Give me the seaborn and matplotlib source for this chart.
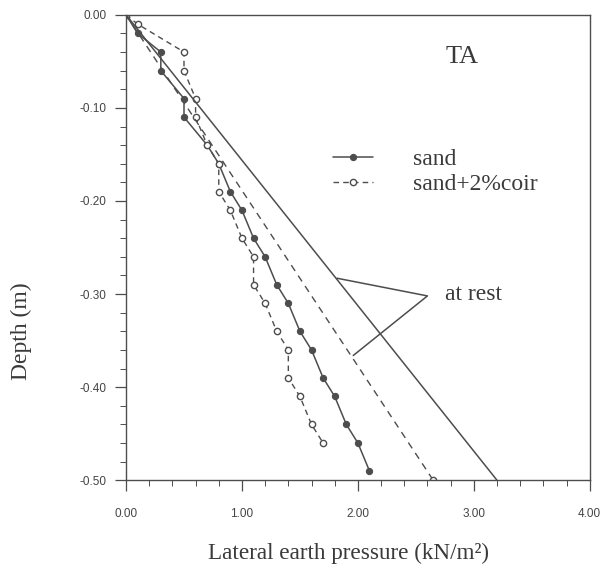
import matplotlib
matplotlib.use("Agg")
import matplotlib.pyplot as plt
import seaborn as sns
import pandas as pd
from matplotlib.ticker import MultipleLocator, FormatStrFormatter

# datos
arena_x = [0.0, 0.1, 0.3, 0.3, 0.5, 0.5, 0.7, 0.8, 0.9, 1.0, 1.1, 1.2, 1.3,
           1.4, 1.5, 1.6, 1.7, 1.8, 1.9, 2.0, 2.1]
arena_y = [0.0, -0.02, -0.04, -0.06, -0.09, -0.11, -0.14, -0.16, -0.19, -0.21,
           -0.24, -0.26, -0.29, -0.31, -0.34, -0.36, -0.39, -0.41, -0.44,
           -0.46, -0.49]
coir_x = [0.0, 0.1, 0.5, 0.5, 0.6, 0.6, 0.7, 0.8, 0.8, 0.9, 1.0, 1.1, 1.1,
          1.2, 1.3, 1.4, 1.4, 1.5, 1.6, 1.7]
coir_y = [0.0, -0.01, -0.04, -0.06, -0.09, -0.11, -0.14, -0.16, -0.19, -0.21,
          -0.24, -0.26, -0.29, -0.31, -0.34, -0.36, -0.39, -0.41, -0.44, -0.46]
reposo_arena_x = [0.0, 3.2]
reposo_arena_y = [0.0, -0.5]
reposo_coir_x = [0.0, 2.65]
reposo_coir_y = [0.0, -0.5]

gris = '#4d4d4d'
texto = '#3a3a3a'

sns.set_theme(style='ticks')
plt.rcParams['font.family'] = ['Liberation Serif', 'DejaVu Serif']

fig, ax = plt.subplots(figsize=(6.03, 5.69), dpi=100)
fig.subplots_adjust(left=0.209, right=0.978, top=0.974, bottom=0.156)

df_a = pd.DataFrame({'x': arena_x, 'y': arena_y})
df_c = pd.DataFrame({'x': coir_x, 'y': coir_y})

sns.lineplot(data=df_a, x='x', y='y', sort=False, estimator=None, ax=ax,
             color=gris, linewidth=1.1, marker='o', markersize=4.5,
             markerfacecolor=gris, markeredgecolor=gris, label='sand')
sns.lineplot(data=df_c, x='x', y='y', sort=False, estimator=None, ax=ax,
             color=gris, linewidth=1.0, linestyle=(0, (4, 3)), marker='o',
             markersize=4.5, markerfacecolor='white', markeredgecolor=gris,
             markeredgewidth=1.0, label='sand+2%coir')

ax.plot(reposo_arena_x, reposo_arena_y, color=gris, linewidth=1.1)
ax.plot(reposo_coir_x, reposo_coir_y, color=gris, linewidth=1.0,
        linestyle=(0, (5, 4)))
ax.plot(reposo_coir_x[-1:], reposo_coir_y[-1:], marker='o', markersize=4.5,
        markerfacecolor='white', markeredgecolor=gris, linestyle='none')

# anotación "at rest"
ax.plot([1.82, 2.60, 1.96], [-0.283, -0.302, -0.366], color=gris, linewidth=1.1)
ax.text(2.75, -0.301, 'at rest', fontsize=17, color=texto, va='center')
ax.text(2.90, -0.045, 'TA', fontsize=19, color=texto, va='center', ha='center')

ax.set_xlim(0, 4)
ax.set_ylim(-0.5, 0)
ax.xaxis.set_major_locator(MultipleLocator(1.0))
ax.xaxis.set_minor_locator(MultipleLocator(0.2))
ax.yaxis.set_major_locator(MultipleLocator(0.1))
ax.yaxis.set_minor_locator(MultipleLocator(0.02))
ax.xaxis.set_major_formatter(FormatStrFormatter('%.2f'))
ax.yaxis.set_major_formatter(FormatStrFormatter('%.2f'))

for lab in ax.get_xticklabels() + ax.get_yticklabels():
    lab.set_family(['Liberation Sans', 'DejaVu Sans'])
ax.tick_params(which='major', direction='out', length=8, width=0.9,
               colors=gris, labelsize=8.5, labelcolor='#444444')
ax.tick_params(axis='x', which='major', pad=12)
ax.tick_params(axis='y', which='major', pad=6)
ax.tick_params(which='minor', direction='out', length=4, width=0.7, colors=gris)

for lado in ['top', 'right', 'left', 'bottom']:
    ax.spines[lado].set_visible(True)
    ax.spines[lado].set_color(gris)
    ax.spines[lado].set_linewidth(1.0)

ax.set_xlabel('Lateral earth pressure (kN/m²)', fontsize=16.7, color=texto)
ax.set_ylabel('Depth (m)', fontsize=17, color=texto)
ax.xaxis.set_label_coords(0.48, -0.134)
ax.yaxis.set_label_coords(-0.203, 0.32)

ax.legend(loc='upper left', bbox_to_anchor=(0.446, 0.712), frameon=False,
          fontsize=17, handlelength=1.7, handletextpad=1.7, labelspacing=0.15,
          borderpad=0, borderaxespad=0, labelcolor=texto)

plt.savefig('out.png', dpi=100)
plt.close()
